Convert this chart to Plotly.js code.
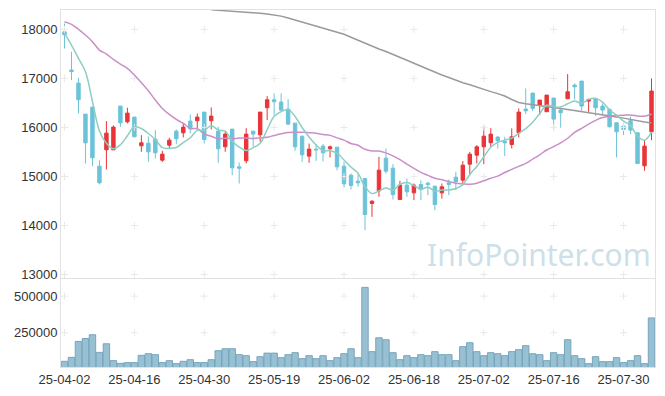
<!DOCTYPE html>
<html><head><meta charset="utf-8">
<script src="https://cdn.plot.ly/plotly-3.0.1.min.js"></script>
<style>html,body{margin:0;padding:0;background:#fff;}#chart{width:665px;height:396px;}</style>
</head><body><div id="chart"></div>
<script>
// ---- data ----
const openP  = [17950,17170,16905,16272,16415,15211,15544,15544,16435,16115,16211,15626,15680,15762,15333,15639,15925,15891,16129,16136,16313,16136,15925,15605,15966,15197,15320,15925,15850,16401,16565,16517,16374,16088,15823,15415,15558,15619,15565,15598,15211,15027,14905,14959,14449,14707,15374,15170,14530,14823,14666,14837,14864,14803,14666,14871,14986,14925,15252,15435,15605,15687,15803,15714,15653,15891,16374,16701,16456,16320,16599,16354,16585,16864,16946,16537,16585,16435,16367,16095,16027,16136,15891,15218,15912];
const highP  = [18120,17544,17014,16272,16415,15333,16129,16041,16435,16401,16211,15843,15816,15946,15524,15789,15959,16095,16265,16285,16313,16408,16014,15912,15966,15286,15986,15925,16313,16639,16694,16694,16578,16088,15823,15673,15660,15660,15632,15598,15299,15061,15061,14959,14517,15401,15571,15252,14911,14959,14857,14925,14891,14803,14857,14939,15095,15313,15503,15639,16027,15986,15823,15809,15980,16388,16796,16701,16558,16660,16599,16408,17088,16898,16946,16585,16605,16490,16388,16095,16082,16218,15891,15741,17000];
const lowP   = [17610,16966,16286,15265,15211,14837,15143,15544,16014,16082,15809,15503,15299,15367,15299,15571,15660,15796,15878,15980,15673,15959,15279,15503,15027,14857,15265,15605,15707,16150,16252,16340,16048,15524,15299,15279,15320,15306,15388,15129,14775,14735,14789,13905,14177,14585,15061,14530,14530,14585,14517,14517,14619,14313,14551,14619,14721,14823,15027,15265,15252,15605,15571,15415,15571,15796,16272,16333,16252,16320,15959,15994,16585,16571,16340,16320,16231,16252,16000,15388,15844,15864,15252,15116,15741];
const closeP = [17890,17140,16565,15687,15381,14871,15884,16007,16095,16292,15809,15687,15503,15483,15456,15741,15769,16007,15973,16211,15755,16231,15564,15864,15177,15170,15864,15864,16313,16565,16524,16354,16068,15605,15442,15558,15544,15483,15605,15197,14850,14816,14871,14224,14496,15129,15109,14632,14823,14687,14823,14735,14837,14428,14789,14837,14891,15231,15456,15605,15823,15864,15728,15687,15809,16313,16340,16388,16558,16660,16170,16299,16728,16830,16435,16571,16401,16354,16014,15912,15959,15946,15265,15619,16742];
const volume = [53800,81000,190000,210000,235700,115000,174000,58500,40000,45000,45000,94700,106000,99400,45000,58500,38000,53800,65000,45000,45000,65000,126700,140000,140000,99400,92600,51800,85800,110000,110000,79000,99400,113000,72200,92600,72200,92600,58500,79000,106000,140000,79000,560000,120000,215000,201500,113000,65000,92600,79000,99400,92600,120000,99400,99400,58500,154000,181000,120000,92600,113000,106000,92600,120000,133500,160700,106000,99400,58500,113000,99400,201500,92600,72200,38000,85800,51800,51800,79000,45000,58500,92600,38000,351000];
// moving-average values before enough candles are on screen
const ma5Head  = [17918,17680,17408,17136];
const ma20Head = [18156,18102,18000,17884,17748,17578,17497,17388,17292,17204,17068,16912,16748,16558,16388,16265,16163,16082,15980];
// long moving average (gray), from candle 21 on
const maLong = [18398,18390,18380,18370,18362,18355,18345,18330,18315,18300,18270,18230,18190,18150,18110,18070,18030,17990,17950,17900,17840,17780,17710,17650,17600,17550,17495,17440,17370,17310,17250,17180,17120,17070,17020,16960,16910,16870,16820,16780,16730,16690,16640,16570,16510,16485,16462,16440,16420,16400,16385,16365,16345,16330,16310,16290,16270,16240,16215,16190,16160,16135,16110,16090];
const maLongStart = 21;
const tickIdx = [0,10,20,30,40,50,60,70,80];
const tickLabels = ['25-04-02','25-04-16','25-04-30','25-05-19','25-06-02','25-06-18','25-07-02','25-07-16','25-07-30'];
const priceTicks = [13000,14000,15000,16000,17000,18000];
const volTicks = [250000,500000];

// ---- derived ----
const idx = closeP.map((_, i) => i);
function movingAvg(n, head) {
  return closeP.map((_, i) => {
    if (i < n - 1) return head[i];
    let s = 0; for (let k = i - n + 1; k <= i; k++) s += closeP[k];
    return s / n;
  });
}
const ma5 = movingAvg(5, ma5Head);
const ma20 = movingAvg(20, ma20Head);
const maL = idx.map(i => i < maLongStart ? null : maLong[i - maLongStart]);

const UP = '#e93438', DOWN = '#6cc3d9';
const crossX = [], crossY = [];
tickIdx.forEach(x => priceTicks.forEach(y => { crossX.push(x); crossY.push(y); }));
const crossX2 = [], crossY2 = [];
tickIdx.forEach(x => volTicks.forEach(y => { crossX2.push(x); crossY2.push(y); }));

const crossMarker = {symbol:'cross-thin', size:5, color:'#e9e9e9', line:{color:'#e9e9e9', width:1}};
const traces = [
  {type:'scatter', mode:'markers', x:crossX, y:crossY, xaxis:'x2', yaxis:'y', marker:crossMarker, hoverinfo:'skip', showlegend:false},
  {type:'scatter', mode:'markers', x:crossX2, y:crossY2, xaxis:'x', yaxis:'y2', marker:crossMarker, hoverinfo:'skip', showlegend:false},
  {type:'candlestick', x:idx, open:openP, high:highP, low:lowP, close:closeP, xaxis:'x2', yaxis:'y',
   increasing:{line:{color:UP, width:1}, fillcolor:UP},
   decreasing:{line:{color:DOWN, width:1}, fillcolor:DOWN},
   whiskerwidth:0, showlegend:false},
  {type:'scatter', mode:'lines', x:idx, y:maL, xaxis:'x2', yaxis:'y', line:{color:'#9a9a9a', width:1.5}, showlegend:false, connectgaps:false},
  {type:'scatter', mode:'lines', x:idx, y:ma20, xaxis:'x2', yaxis:'y', line:{color:'#c98fc9', width:1.5, shape:'spline'}, showlegend:false},
  {type:'scatter', mode:'lines', x:idx, y:ma5, xaxis:'x2', yaxis:'y', line:{color:'#8ccfc2', width:1.5, shape:'spline'}, showlegend:false},
  {type:'bar', x:idx, y:volume, xaxis:'x', yaxis:'y2', marker:{color:'#98c0d3', line:{color:'#77a5bd', width:1}}, showlegend:false}
];

const axFont = {family:'"Liberation Sans", Arial, sans-serif', size:13, color:'#333333'};
const layout = {
  width:665, height:396,
  margin:{l:61, r:10, t:10, b:29},
  paper_bgcolor:'#fff', plot_bgcolor:'#fff',
  showlegend:false, bargap:0.08,
  font:axFont,
  xaxis:{domain:[0,1], anchor:'y2', range:[-0.5,84.5], tickmode:'array', tickvals:tickIdx, ticktext:tickLabels,
         showgrid:false, zeroline:false, showline:true, mirror:true, linecolor:'#e2e2e2', linewidth:1, ticks:'', tickfont:axFont},
  xaxis2:{domain:[0,1], anchor:'y', matches:'x', range:[-0.5,84.5], showticklabels:false, showgrid:false, zeroline:false,
          showline:true, mirror:true, linecolor:'#e2e2e2', linewidth:1, ticks:'', rangeslider:{visible:false}},
  yaxis:{domain:[0.2493,1], range:[12930,18395], tickmode:'array', tickvals:priceTicks, tickformat:'d', showgrid:false, zeroline:false,
         showline:true, mirror:true, linecolor:'#e2e2e2', linewidth:1, ticks:'', tickfont:axFont},
  yaxis2:{domain:[0,0.2476], range:[15000,620000], tickmode:'array', tickvals:volTicks, tickformat:'d', showgrid:false, zeroline:false,
          showline:true, mirror:true, linecolor:'#e2e2e2', linewidth:1, ticks:'', tickfont:axFont},
  annotations:[{text:'InfoPointer.com', xref:'paper', yref:'paper', x:0.805, y:0.315, xanchor:'center', yanchor:'middle', showarrow:false,
                font:{family:'"Noto Sans", "Open Sans", sans-serif', size:30, color:'#cddfe8'}}]
};
Plotly.newPlot('chart', traces, layout, {staticPlot:true, displayModeBar:false});
</script></body></html>
